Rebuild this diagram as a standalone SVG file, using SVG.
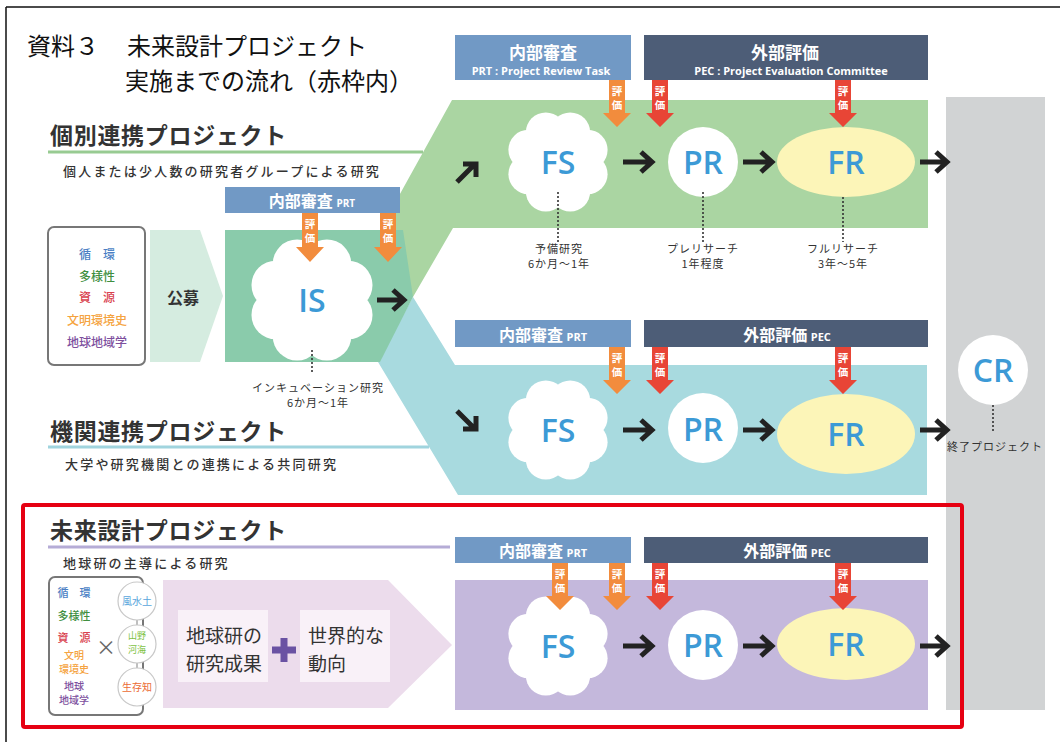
<svg xmlns="http://www.w3.org/2000/svg" width="1060" height="742" viewBox="0 0 1060 742">
<defs>
<style>
text{font-family:"Noto Sans CJK JP","Noto Sans",sans-serif}
.title{font-size:24px;fill:#111}
.sec{font-size:23px;font-weight:700;fill:#333;letter-spacing:0.7px}
.sub{font-size:13px;font-weight:500;fill:#333;letter-spacing:2.2px}
.small{font-size:11px;fill:#333;letter-spacing:1px;text-anchor:middle}
.hdr{fill:#fff;font-weight:700;text-anchor:middle}
.hdr-en{font-family:"Open Sans",sans-serif;font-weight:700}
.node{font-family:"Open Sans",sans-serif;font-weight:600;fill:#3c9ad6;text-anchor:middle;font-size:32px}
.ev{fill:#fff;font-size:10.5px;font-weight:700;text-anchor:middle}
.ev-o{fill:#f28c3d}
.ev-r{fill:#e84536}
.prt{fill:#7199c5}
.pec{fill:#4d5d77}
.arr{stroke:#222;stroke-width:5;fill:none;stroke-linejoin:miter;stroke-linecap:butt}
.dot{stroke:#333;stroke-width:1.6;stroke-dasharray:2 2;fill:none}
.kw{font-size:12px;text-anchor:middle;font-weight:500}
.kw2{font-size:11px;text-anchor:middle;font-weight:500}
.kw3{font-size:10px;text-anchor:middle;font-weight:500}
.cl{fill:#fff}
</style>
<g id="cloud">
<circle cx="0" cy="0" r="36"/>
<circle cx="29.6" cy="12.2" r="20"/>
<circle cx="12.2" cy="29.6" r="20"/>
<circle cx="-12.2" cy="29.6" r="20"/>
<circle cx="-29.6" cy="12.2" r="20"/>
<circle cx="-29.6" cy="-12.2" r="20"/>
<circle cx="-12.2" cy="-29.6" r="20"/>
<circle cx="12.2" cy="-29.6" r="20"/>
<circle cx="29.6" cy="-12.2" r="20"/>
</g>
</defs>
<rect x="0" y="0" width="1060" height="742" fill="#fff"/>
<path d="M6,7 H1060 M6,7 V742" stroke="#111" stroke-width="1.5" fill="none"/>

<g id="title">
<text class="title" x="27" y="55">資料３<tspan x="127">未来設計プロジェクト</tspan></text>
<text class="title" x="125" y="90">実施までの流れ（赤枠内）</text>
</g>

<g id="backgrounds">
<rect x="946" y="97" width="99" height="613" fill="#d1d3d4"/>
<polygon points="452,100 928,100 928,228 453,228 413,297 380,297 380,230" fill="#aad5a2"/>
<polygon points="413,297 455,365 927,365 927,495 458,495 378,362" fill="#a8dadf"/>
<rect x="455" y="580" width="473" height="130" fill="#c4b8dc"/>
<polygon points="150,230 200,230 223,296 200,362 150,362" fill="#d5ece0"/>
<polygon points="225,230 403,230 413,297 380,362 225,362" fill="#8acbab"/>
<polygon points="163,580 388,580 452,645 388,708 163,708" fill="#ecdcec"/>
<line x1="48" y1="152" x2="423" y2="152" stroke="#98cb92" stroke-width="3"/>
<line x1="48" y1="447" x2="429" y2="447" stroke="#a0d4de" stroke-width="3"/>
<line x1="48" y1="547" x2="450" y2="547" stroke="#b5acd6" stroke-width="3"/>
</g>

<g id="section-kobetsu">
<text class="sec" x="50" y="144">個別連携プロジェクト</text>
<text class="sub" x="63" y="176">個人または少人数の研究者グループによる研究</text>
</g>
<g id="section-kikan">
<text class="sec" x="50" y="440">機関連携プロジェクト</text>
<text class="sub" x="65" y="469">大学や研究機関との連携による共同研究</text>
</g>
<g id="section-mirai">
<text class="sec" x="50" y="539">未来設計プロジェクト</text>
<text class="sub" x="63" y="568">地球研の主導による研究</text>
</g>

<g id="keywords-top">
<rect x="48" y="227" width="97" height="138" rx="6" fill="#fff" stroke="#777" stroke-width="2"/>
<text class="kw" x="97" y="259" fill="#4b7fc4">循　環</text>
<text class="kw" x="97" y="281" fill="#3f8f3f">多様性</text>
<text class="kw" x="97" y="302" fill="#d9424f">資　源</text>
<text class="kw" x="97" y="325" fill="#f5a340">文明環境史</text>
<text class="kw" x="97" y="347" fill="#7d4f9e">地球地域学</text>
</g>
<g id="koubo">
<text x="183" y="304" font-size="16" font-weight="700" fill="#333" text-anchor="middle">公募</text>
</g>

<g id="keywords-bottom">
<rect x="49" y="577" width="94" height="138" rx="6" fill="#fff" stroke="#777" stroke-width="2"/>
<text class="kw2" x="74" y="597" fill="#4b7fc4">循　環</text>
<text class="kw2" x="74" y="620" fill="#3f8f3f">多様性</text>
<text class="kw2" x="74" y="642" fill="#d9424f">資　源</text>
<text class="kw3" x="74" y="659" fill="#f5a340">文明</text>
<text class="kw3" x="74" y="673" fill="#f5a340">環境史</text>
<text class="kw3" x="74" y="690" fill="#7d4f9e">地球</text>
<text class="kw3" x="74" y="704" fill="#7d4f9e">地域学</text>
<text x="106" y="655" font-size="20" fill="#666" text-anchor="middle">×</text>
<path d="M137,620 V625 M137,663 V668" stroke="#aaa" stroke-width="1.5"/>
<circle cx="137" cy="601" r="19" fill="#fff" stroke="#c8c8c8" stroke-width="1.2"/>
<circle cx="137" cy="644" r="19" fill="#fff" stroke="#c8c8c8" stroke-width="1.2"/>
<circle cx="137" cy="687" r="19" fill="#fff" stroke="#c8c8c8" stroke-width="1.2"/>
<text x="137" y="605" font-size="10" fill="#5aa6dc" text-anchor="middle">風水土</text>
<text x="137" y="639" font-size="9" fill="#7dc242" text-anchor="middle">山野</text>
<text x="137" y="653" font-size="9" fill="#7dc242" text-anchor="middle">河海</text>
<text x="137" y="691" font-size="10" fill="#eb6b34" text-anchor="middle">生存知</text>
</g>

<g id="mirai-boxes">
<rect x="178" y="610" width="90" height="72" fill="#f9f1f8"/>
<rect x="300" y="610" width="90" height="72" fill="#f9f1f8"/>
<text x="186" y="643" font-size="19" fill="#333">地球研の</text>
<text x="186" y="671" font-size="19" fill="#333">研究成果</text>
<text x="308" y="643" font-size="19" fill="#333">世界的な</text>
<text x="308" y="671" font-size="19" fill="#333">動向</text>
<path d="M272,650 H296 M284,638 V662" stroke="#6a52a3" stroke-width="7"/>
</g>

<g id="headers">
<rect class="prt" x="225" y="187" width="175" height="26"/>
<text class="hdr" x="312" y="207" font-size="16">内部審査 <tspan class="hdr-en" font-size="10">PRT</tspan></text>
<rect class="prt" x="455" y="35" width="176" height="45"/>
<text class="hdr" x="543" y="59" font-size="17">内部審査</text>
<text class="hdr hdr-en" x="541" y="75" font-size="11">PRT : Project Review Task</text>
<rect class="pec" x="644" y="35" width="284" height="45"/>
<text class="hdr" x="785" y="59" font-size="17">外部評価</text>
<text class="hdr hdr-en" x="791" y="75" font-size="11">PEC : Project Evaluation Committee</text>
<rect class="prt" x="455" y="320" width="176" height="27"/>
<text class="hdr" x="543" y="341" font-size="16">内部審査 <tspan class="hdr-en" font-size="11">PRT</tspan></text>
<rect class="pec" x="644" y="320" width="284" height="27"/>
<text class="hdr" x="787" y="341" font-size="16">外部評価 <tspan class="hdr-en" font-size="11">PEC</tspan></text>
<rect class="prt" x="455" y="537" width="176" height="26"/>
<text class="hdr" x="543" y="557" font-size="16">内部審査 <tspan class="hdr-en" font-size="11">PRT</tspan></text>
<rect class="pec" x="644" y="537" width="284" height="26"/>
<text class="hdr" x="787" y="557" font-size="16">外部評価 <tspan class="hdr-en" font-size="11">PEC</tspan></text>
</g>

<g id="node-IS">
<use href="#cloud" class="cl" transform="translate(312,300) scale(1.22)"/>
<text class="node" x="312" y="312" font-size="34">IS</text>
</g>
<g id="node-FS1">
<use href="#cloud" class="cl" transform="translate(558,162)"/>
<text class="node" x="558" y="174">FS</text>
</g>
<g id="node-PR1">
<circle cx="703" cy="162" r="35" fill="#fff"/>
<text class="node" x="703" y="174">PR</text>
</g>
<g id="node-FR1">
<ellipse cx="846" cy="162" rx="69" ry="35" fill="#fcf5b8"/>
<text class="node" x="846" y="174">FR</text>
</g>
<g id="node-FS2">
<use href="#cloud" class="cl" transform="translate(558,430)"/>
<text class="node" x="558" y="442">FS</text>
</g>
<g id="node-PR2">
<circle cx="703" cy="428" r="35" fill="#fff"/>
<text class="node" x="703" y="441">PR</text>
</g>
<g id="node-FR2">
<ellipse cx="846" cy="434" rx="69" ry="40" fill="#fcf5b8"/>
<text class="node" x="846" y="446">FR</text>
</g>
<g id="node-FS3">
<use href="#cloud" class="cl" transform="translate(558,646)"/>
<text class="node" x="558" y="658">FS</text>
</g>
<g id="node-PR3">
<circle cx="703" cy="645" r="35" fill="#fff"/>
<text class="node" x="703" y="657">PR</text>
</g>
<g id="node-FR3">
<ellipse cx="846" cy="644" rx="69" ry="36" fill="#fcf5b8"/>
<text class="node" x="846" y="656">FR</text>
</g>
<g id="node-CR">
<circle cx="993" cy="370" r="35" fill="#fff"/>
<text class="node" x="993" y="382">CR</text>
<text class="small" x="995" y="451" letter-spacing="0.6">終了プロジェクト</text>
</g>

<g id="eval-arrows">
<path class="ev-o" d="M302,213 H318 V247 H324 L310,262 L296,247 H302 Z"/>
<text class="ev" x="310" y="228">評</text><text class="ev" x="310" y="242">価</text>
<path class="ev-o" d="M380,213 H396 V247 H402 L388,262 L374,247 H380 Z"/>
<text class="ev" x="388" y="228">評</text><text class="ev" x="388" y="242">価</text>

<path class="ev-o" d="M609,80 H625 V113 H631 L617,127 L603,113 H609 Z"/>
<text class="ev" x="617" y="95">評</text><text class="ev" x="617" y="109">価</text>
<path class="ev-r" d="M652,80 H668 V113 H674 L660,127 L646,113 H652 Z"/>
<text class="ev" x="660" y="95">評</text><text class="ev" x="660" y="109">価</text>
<path class="ev-r" d="M835,80 H851 V113 H857 L843,127 L829,113 H835 Z"/>
<text class="ev" x="843" y="95">評</text><text class="ev" x="843" y="109">価</text>

<path class="ev-o" d="M609,347 H625 V380 H631 L617,394 L603,380 H609 Z"/>
<text class="ev" x="617" y="362">評</text><text class="ev" x="617" y="376">価</text>
<path class="ev-r" d="M652,347 H668 V380 H674 L660,394 L646,380 H652 Z"/>
<text class="ev" x="660" y="362">評</text><text class="ev" x="660" y="376">価</text>
<path class="ev-r" d="M835,347 H851 V380 H857 L843,394 L829,380 H835 Z"/>
<text class="ev" x="843" y="362">評</text><text class="ev" x="843" y="376">価</text>

<path class="ev-o" d="M552,563 H568 V596 H574 L560,610 L546,596 H552 Z"/>
<text class="ev" x="560" y="578">評</text><text class="ev" x="560" y="592">価</text>
<path class="ev-o" d="M609,563 H625 V596 H631 L617,610 L603,596 H609 Z"/>
<text class="ev" x="617" y="578">評</text><text class="ev" x="617" y="592">価</text>
<path class="ev-r" d="M652,563 H668 V596 H674 L660,610 L646,596 H652 Z"/>
<text class="ev" x="660" y="578">評</text><text class="ev" x="660" y="592">価</text>
<path class="ev-r" d="M835,563 H851 V596 H857 L843,610 L829,596 H835 Z"/>
<text class="ev" x="843" y="578">評</text><text class="ev" x="843" y="592">価</text>
</g>

<g id="connectors">
<path class="arr" d="M377,300 H403 M393,290 L404,300 L393,310"/>
<path class="arr" d="M457,182 L475,164 M463,164 H476 V177"/>
<path class="arr" d="M457,411 L475,429 M476,416 V429 H463"/>
<path class="arr" d="M623,162 H651 M641,152 L652,162 L641,172"/>
<path class="arr" d="M743,162 H771 M761,152 L772,162 L761,172"/>
<path class="arr" d="M920,162 H946 M936,152 L947,162 L936,172"/>
<path class="arr" d="M623,430 H651 M641,420 L652,430 L641,440"/>
<path class="arr" d="M743,430 H771 M761,420 L772,430 L761,440"/>
<path class="arr" d="M920,430 H946 M936,420 L947,430 L936,440"/>
<path class="arr" d="M623,646 H651 M641,636 L652,646 L641,656"/>
<path class="arr" d="M743,646 H771 M761,636 L772,646 L761,656"/>
<path class="arr" d="M920,646 H946 M936,636 L947,646 L936,656"/>
<path class="dot" d="M312,350 V373 M558,192 V242 M703,192 V242 M843,197 V242 M993,405 V433"/>
</g>

<g id="labels">
<text class="small" x="318" y="392">インキュベーション研究</text>
<text class="small" x="318" y="407">6か月～1年</text>
<text class="small" x="559" y="253">予備研究</text>
<text class="small" x="559" y="268">6か月～1年</text>
<text class="small" x="703" y="253">プレリサーチ</text>
<text class="small" x="703" y="268">1年程度</text>
<text class="small" x="843" y="253">フルリサーチ</text>
<text class="small" x="843" y="268">3年～5年</text>
</g>

<rect id="red-frame" x="23" y="505" width="939" height="222" rx="2" fill="none" stroke="#e60012" stroke-width="4"/>
</svg>
